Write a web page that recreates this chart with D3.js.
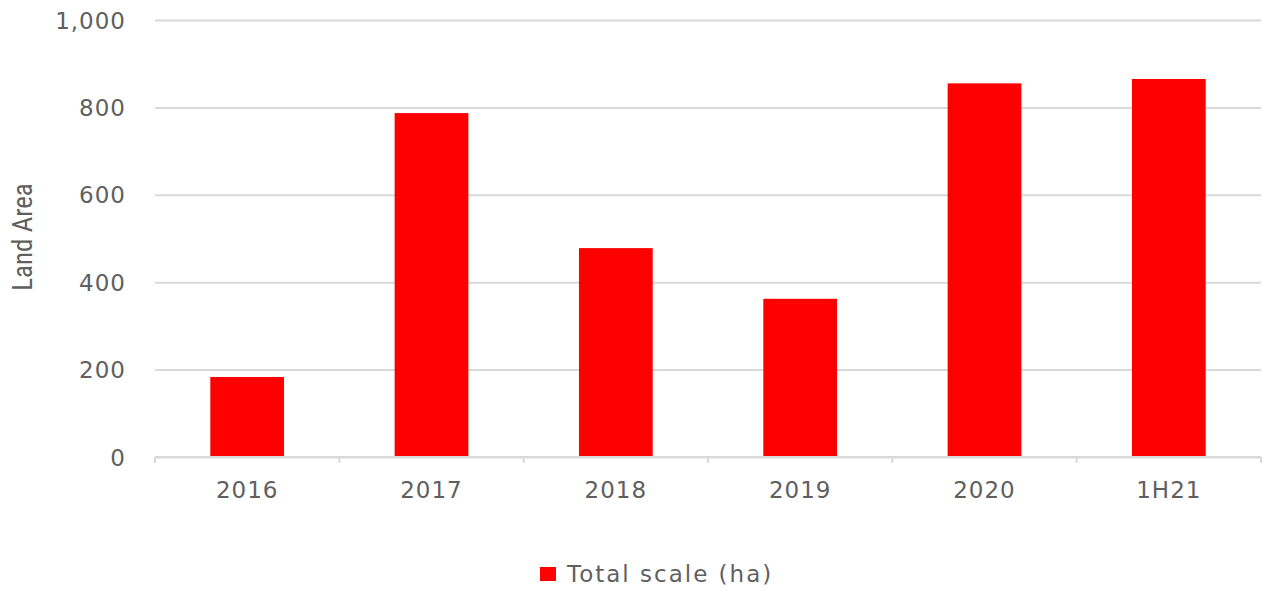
<!DOCTYPE html>
<html>
<head>
<meta charset="utf-8">
<script src="https://d3js.org/d3.v7.min.js"></script>
<style>
    html, body { margin: 0; padding: 0; background: #fff; }
    svg { display: block; }
    .tick text { font-family: "DejaVu Sans", Verdana, sans-serif; font-size: 23px; letter-spacing: 1px; fill: #5f5f5f; }
    .grid line { stroke: #d9d9d9; stroke-width: 2px; }
    .xaxis path, .xaxis line { stroke: #d9d9d9; stroke-width: 2px; }
</style>
</head>
<body>
<div id="chart"></div>
<script>
    var categories = ["2016", "2017", "2018", "2019", "2020", "1H21"];
    var totalScale = [183, 787, 478, 362, 855, 865];
    var yTicks = [0, 200, 400, 600, 800, 1000];
    var seriesName = "Total scale (ha)";
    var yTitle = "Land Area";

    var width = 1263, height = 589,
        margin = {top: 20, right: 2, bottom: 132, left: 155};

    var svg = d3.select("#chart").append("svg")
        .attr("width", width)
        .attr("height", height);

    var x = d3.scaleBand()
        .domain(categories)
        .range([margin.left, width - margin.right])
        .paddingInner(0.6)
        .paddingOuter(0.3);

    var y = d3.scaleLinear()
        .domain([0, 1000])
        .range([height - margin.bottom, margin.top]);

    // gridlines + y labels
    var yAxis = svg.append("g")
        .attr("class", "grid")
        .attr("transform", "translate(" + margin.left + ",0)")
        .call(d3.axisLeft(y)
            .tickValues(yTicks)
            .tickSize(-(width - margin.right - margin.left))
            .tickPadding(29)
            .tickFormat(d3.format(",")));
    yAxis.select(".domain").remove();
    yAxis.selectAll(".tick text").attr("dy", "0.35em");

    // bars
    svg.append("g").selectAll("rect")
        .data(totalScale)
        .enter()
        .append("rect")
        .attr("x", function (d, i) { return x(categories[i]); })
        .attr("y", function (d) { return y(d); })
        .attr("width", x.bandwidth())
        .attr("height", function (d) { return y(0) - y(d); })
        .style("fill", "#ff0000");

    // x axis with ticks at category boundaries
    var xAxis = svg.append("g")
        .attr("class", "xaxis")
        .attr("transform", "translate(0," + y(0) + ")");
    xAxis.append("line")
        .attr("x1", margin.left).attr("x2", width - margin.right)
        .attr("y1", 0).attr("y2", 0);
    var bounds = d3.range(categories.length + 1).map(function (i) {
        return margin.left + i * (width - margin.right - margin.left) / categories.length;
    });
    xAxis.selectAll(".bt")
        .data(bounds)
        .enter()
        .append("line")
        .attr("x1", function (d) { return d; })
        .attr("x2", function (d) { return d; })
        .attr("y1", 0).attr("y2", 6);
    xAxis.selectAll(".lbl")
        .data(categories)
        .enter()
        .append("text")
        .attr("x", function (d) { return x(d) + x.bandwidth() / 2; })
        .attr("y", 41)
        .attr("text-anchor", "middle")
        .style("font-family", "'DejaVu Sans', Verdana, sans-serif")
        .style("font-size", "23px")
        .style("letter-spacing", "1px")
        .style("fill", "#5f5f5f")
        .text(function (d) { return d; });

    // y title
    svg.append("text")
        .attr("transform", "translate(32," + 237 + ") rotate(-90)")
        .attr("text-anchor", "middle")
        .style("font-family", "'Liberation Sans Narrow', 'Roboto Condensed', 'Liberation Sans', sans-serif")
        .style("font-size", "27px")
        .style("fill", "#5f5f5f")
        .text(yTitle);

    // legend
    var legend = svg.append("g").attr("transform", "translate(540,567)");
    legend.append("rect")
        .attr("width", 16).attr("height", 14)
        .style("fill", "#ff0000");
    legend.append("text")
        .attr("x", 27).attr("y", 15)
        .style("font-family", "'DejaVu Sans', Verdana, sans-serif")
        .style("font-size", "23px")
        .style("letter-spacing", "2px")
        .style("fill", "#5f5f5f")
        .text(seriesName);
</script>
</body>
</html>
